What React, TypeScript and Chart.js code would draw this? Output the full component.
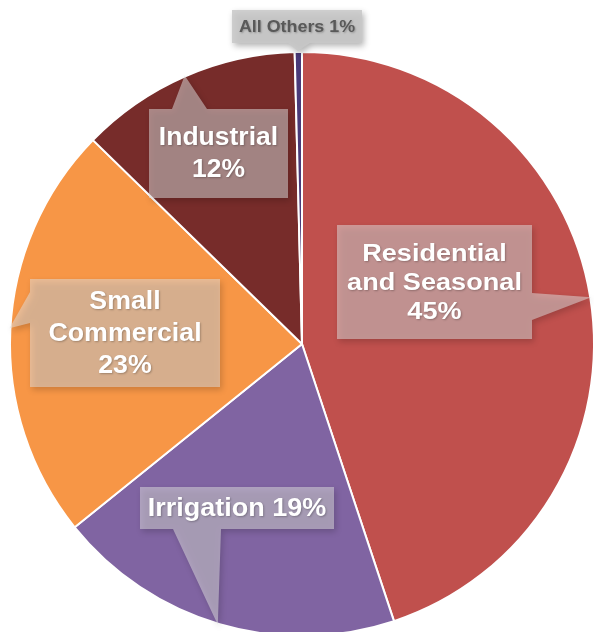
import React, { useEffect, useRef } from "react";
import { Chart, ArcElement, PieController } from "chart.js";

Chart.register(ArcElement, PieController);

// ---- data ----
const categories = ["Residential and Seasonal", "Irrigation", "Small Commercial", "Industrial", "All Others"];
const shares = [44.9, 19.3, 23.1, 12.3, 0.4];
const shareLabels = ["45%", "19%", "23%", "12%", "1%"];
const sliceColors = ["#C0504D", "#8064A2", "#F79646", "#772C2A", "#4A3A78"];

// ---- callout layout (offsets from the pie centre, in px for a 292px radius) ----
type Callout = {
  lines: string[];
  box: [number, number, number, number]; // x0, y0, x1, y1
  side: "right" | "left" | "top" | "bottom";
  base: [number, number];
  tipAngle: number; // degrees clockwise from 12 o'clock, tip sits on the rim
  fill: string;
  color: string;
  size: number;
  stretch: number;
  lineH: number;
};

const callouts: Callout[] = [
  { lines: ["Residential", "and Seasonal", shareLabels[0]], box: [35, -119, 230, -5], side: "right", base: [-51, -24], tipAngle: 80.8, fill: "rgba(225,225,225,0.5)", color: "#FFFFFF", size: 24, stretch: 1.13, lineH: 29 },
  { lines: [categories[1] + " " + shareLabels[1]], box: [-162, 143, 32, 185], side: "bottom", base: [-129, -81], tipAngle: 196.7, fill: "rgba(225,225,225,0.5)", color: "#FFFFFF", size: 25, stretch: 1.08, lineH: 30 },
  { lines: ["Small", "Commercial", shareLabels[2]], box: [-272, -65, -82, 43], side: "left", base: [-52, -21], tipAngle: 273.1, fill: "rgba(225,225,225,0.5)", color: "#FFFFFF", size: 25, stretch: 1.07, lineH: 32 },
  { lines: ["Industrial", shareLabels[3]], box: [-153, -235, -14, -146], side: "top", base: [-130, -95], tipAngle: 336.4, fill: "rgba(225,225,225,0.5)", color: "#FFFFFF", size: 25, stretch: 1.06, lineH: 32 },
  { lines: [categories[4] + " " + shareLabels[4]], box: [-70, -334, 60, -301], side: "bottom", base: [-14, 8], tipAngle: 359.2, fill: "rgba(200,200,200,0.85)", color: "#595959", size: 17, stretch: 1.05, lineH: 20 },
];

const calloutPlugin = {
  id: "callouts",
  afterDraw(chart: any) {
    const meta = chart.getDatasetMeta(0);
    const arc = meta.data[0];
    if (!arc) return;
    const cx = arc.x;
    const cy = arc.y;
    const r = arc.outerRadius + 1;
    const k = r / 293;
    const ctx: CanvasRenderingContext2D = chart.ctx;
    for (const c of callouts) {
      const x0 = cx + c.box[0] * k, y0 = cy + c.box[1] * k;
      const x1 = cx + c.box[2] * k, y1 = cy + c.box[3] * k;
      const a = (c.tipAngle * Math.PI) / 180;
      const tx = cx + r * Math.sin(a);
      const ty = cy - r * Math.cos(a);
      const b0 = c.base[0] * k, b1 = c.base[1] * k;
      ctx.save();
      ctx.beginPath();
      ctx.moveTo(x0, y0);
      if (c.side === "top") {
        ctx.lineTo(cx + b0, y0);
        ctx.lineTo(tx, ty);
        ctx.lineTo(cx + b1, y0);
      }
      ctx.lineTo(x1, y0);
      if (c.side === "right") {
        ctx.lineTo(x1, cy + b0);
        ctx.lineTo(tx, ty);
        ctx.lineTo(x1, cy + b1);
      }
      ctx.lineTo(x1, y1);
      if (c.side === "bottom") {
        ctx.lineTo(cx + b1, y1);
        ctx.lineTo(tx, ty);
        ctx.lineTo(cx + b0, y1);
      }
      ctx.lineTo(x0, y1);
      if (c.side === "left") {
        ctx.lineTo(x0, cy + b1);
        ctx.lineTo(tx, ty);
        ctx.lineTo(x0, cy + b0);
      }
      ctx.closePath();
      ctx.shadowColor = "rgba(0,0,0,0.35)";
      ctx.shadowBlur = 6;
      ctx.shadowOffsetX = 2;
      ctx.shadowOffsetY = 3;
      ctx.fillStyle = c.fill;
      ctx.fill();
      ctx.restore();

      ctx.save();
      ctx.fillStyle = c.color;
      ctx.font = `bold ${c.size * k}px "Liberation Sans", Arial, sans-serif`;
      ctx.textAlign = "center";
      ctx.textBaseline = "middle";
      ctx.shadowColor = "rgba(0,0,0,0.25)";
      ctx.shadowBlur = 2;
      ctx.shadowOffsetX = 1;
      ctx.shadowOffsetY = 1;
      const mx = (x0 + x1) / 2;
      const my = (y0 + y1) / 2;
      const n = c.lines.length;
      c.lines.forEach((line, i) => {
        const ly = my + (i - (n - 1) / 2) * c.lineH * k + 1;
        ctx.save();
        ctx.translate(mx, ly);
        ctx.scale(c.stretch, 1);
        ctx.fillText(line, 0, 0);
        ctx.restore();
      });
      ctx.restore();
    }
  },
};

export default function App() {
  const ref = useRef<HTMLCanvasElement | null>(null);
  useEffect(() => {
    if (!ref.current) return;
    const chart = new Chart(ref.current, {
      type: "pie",
      data: {
        labels: categories,
        datasets: [
          {
            data: shares,
            backgroundColor: sliceColors,
            borderColor: "#FFFFFF",
            borderWidth: 2,
          },
        ],
      },
      options: {
        responsive: false,
        maintainAspectRatio: false,
        animation: false,
        layout: { padding: { left: 9, top: 51, right: 9, bottom: 63 } },
        plugins: {
          legend: { display: false },
          tooltip: { enabled: false },
        },
      },
      plugins: [calloutPlugin],
    } as any);
    return () => chart.destroy();
  }, []);
  return (
    <div style={{ position: "fixed", left: 0, top: 0, width: 594, height: 632, overflow: "hidden", background: "#FFFFFF" }}>
      <canvas ref={ref} width={604} height={700} style={{ display: "block" }} />
    </div>
  );
}
